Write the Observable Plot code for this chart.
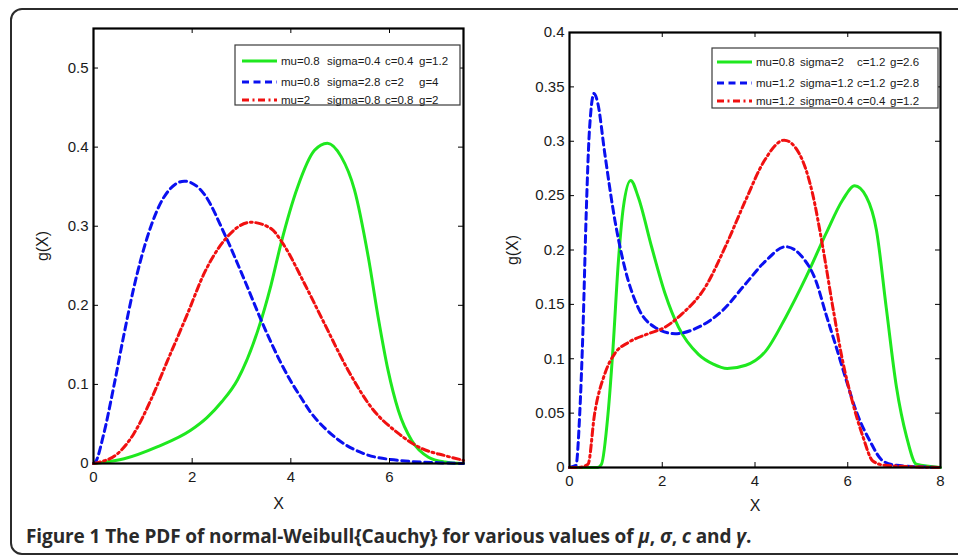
<!DOCTYPE html>
<html>
<head>
<meta charset="utf-8">
<script src="https://cdn.jsdelivr.net/npm/d3@7"></script>
<script src="https://cdn.jsdelivr.net/npm/@observablehq/plot@0.6"></script>
<style>
  html, body { margin: 0; padding: 0; background: #fff; }
  #page { position: relative; width: 958px; height: 557px; overflow: hidden; background: #fff; }
  #border { position: absolute; left: 10px; top: 8px; width: 980px; height: 543px; border: 2px solid #2b2b2b; border-radius: 12px; }
  .panel { position: absolute; top: 0; }
  .legend { position: absolute; }
  .legend text { font-family: "Liberation Sans", Arial, sans-serif; font-size: 11.5px; fill: #1a1a1a; }
  #caption { position: absolute; left: 26px; top: 523px; font-family: "Open Sans", sans-serif; font-weight: 700; font-size: 19px; color: #2a2a2a; white-space: nowrap; letter-spacing: -0.1px; }
  #caption i { font-weight: 700; }
</style>
</head>
<body>
<div id="page">
  <div id="border"></div>
  <div id="left" class="panel" style="left:0px"></div>
  <div id="right" class="panel" style="left:479px"></div>
  <div id="legL" class="legend"></div>
  <div id="legR" class="legend"></div>
  <div id="caption">Figure 1 The PDF of normal-Weibull{Cauchy} for various values of <i>μ</i>, <i>σ</i>, <i>c</i> and <i>γ</i>.</div>
</div>
<script>
// ---------- Left panel data ----------
const leftXTicks = [0, 2, 4, 6];
const leftYTicks = [0, 0.1, 0.2, 0.3, 0.4, 0.5];

const leftGreenX = [0, 0.14, 0.62, 1.29, 1.97, 2.3, 2.6, 2.92, 3.33, 3.6, 3.8, 4.14, 4.48, 4.74, 5.02, 5.29, 5.57, 5.77, 5.97, 6.18, 6.45, 6.79, 7.12, 7.5];
const leftGreenY = [0, 0.001, 0.006, 0.021, 0.042, 0.058, 0.078, 0.106, 0.168, 0.226, 0.278, 0.35, 0.396, 0.405, 0.388, 0.346, 0.261, 0.185, 0.118, 0.067, 0.029, 0.008, 0.002, 0];

const leftBlueX = [0, 0.04, 0.21, 0.41, 0.62, 0.82, 1.09, 1.43, 1.84, 2.24, 2.65, 3.06, 3.4, 3.6, 3.8, 4.0, 4.2, 4.41, 4.7, 4.96, 5.5, 6.18, 6.99, 7.5];
const leftBlueY = [0, 0.002, 0.038, 0.097, 0.164, 0.223, 0.286, 0.337, 0.357, 0.341, 0.291, 0.232, 0.181, 0.153, 0.127, 0.104, 0.084, 0.064, 0.044, 0.030, 0.012, 0.004, 0.001, 0];

const leftRedX = [0, 0.14, 0.48, 0.82, 1.16, 1.5, 1.91, 2.24, 2.65, 3.19, 3.6, 3.84, 4.28, 4.68, 5.16, 5.63, 6.18, 6.65, 7.12, 7.5];
const leftRedY = [0, 0.002, 0.012, 0.038, 0.08, 0.13, 0.19, 0.24, 0.282, 0.305, 0.297, 0.278, 0.227, 0.177, 0.118, 0.071, 0.038, 0.019, 0.010, 0.004];

const leftLegend = [
  ["mu=0.8", "sigma=0.4", "c=0.4", "g=1.2"],
  ["mu=0.8", "sigma=2.8", "c=2", "g=4"],
  ["mu=2", "sigma=0.8", "c=0.8", "g=2"]
];

// ---------- Right panel data ----------
const rightXTicks = [0, 2, 4, 6, 8];
const rightYTicks = [0, 0.05, 0.1, 0.15, 0.2, 0.25, 0.3, 0.35, 0.4];

const rightGreenX = [0, 0.6, 0.69, 0.83, 0.94, 1.05, 1.16, 1.32, 1.48, 1.77, 2.06, 2.35, 2.78, 3.1, 3.4, 3.8, 4.23, 4.66, 5.1, 5.53, 5.89, 6.15, 6.4, 6.62, 6.83, 7.05, 7.27, 7.48, 8];
const rightGreenY = [0, 0, 0.003, 0.049, 0.111, 0.187, 0.239, 0.264, 0.249, 0.203, 0.16, 0.129, 0.104, 0.095, 0.091, 0.094, 0.107, 0.138, 0.175, 0.215, 0.246, 0.259, 0.249, 0.218, 0.147, 0.074, 0.028, 0.003, 0];

const rightBlueX = [0, 0.14, 0.22, 0.29, 0.36, 0.43, 0.53, 0.61, 0.76, 0.98, 1.19, 1.48, 1.84, 2.28, 2.78, 3.29, 3.8, 4.23, 4.66, 5.03, 5.31, 5.53, 5.75, 5.97, 6.18, 6.47, 6.76, 7.05, 8];
const rightBlueY = [0, 0.002, 0.049, 0.126, 0.233, 0.31, 0.344, 0.335, 0.289, 0.227, 0.184, 0.147, 0.129, 0.123, 0.129, 0.144, 0.169, 0.19, 0.203, 0.193, 0.172, 0.141, 0.111, 0.08, 0.052, 0.025, 0.006, 0.002, 0];

const rightRedX = [0, 0.18, 0.4, 0.54, 0.76, 0.98, 1.27, 1.7, 2.06, 2.42, 2.93, 3.36, 3.8, 4.2, 4.63, 4.95, 5.24, 5.46, 5.68, 5.89, 6.11, 6.33, 6.54, 6.8, 8];
const rightRedY = [0, 0, 0.003, 0.049, 0.086, 0.105, 0.115, 0.123, 0.129, 0.141, 0.166, 0.203, 0.246, 0.282, 0.301, 0.289, 0.252, 0.203, 0.147, 0.098, 0.059, 0.028, 0.006, 0.002, 0];

const rightLegend = [
  ["mu=0.8", "sigma=2", "c=1.2", "g=2.6"],
  ["mu=1.2", "sigma=1.2", "c=1.2", "g=2.8"],
  ["mu=1.2", "sigma=0.4", "c=0.4", "g=1.2"]
];

// ---------- Styles ----------
const seriesColors = ["#1fe81f", "#0a10f0", "#f01010"];
const seriesDash = [null, "7,4.5", "7,3.5,2,3.5"];
const axisFont = '"Liberation Sans", Arial, sans-serif';

function zip(xs, ys) { return xs.map((x, i) => ({x, y: ys[i]})); }

function panel(cfg) {
  const W = cfg.width, H = cfg.height;
  const pw = W - cfg.ml - cfg.mr, ph = H - cfg.mt - cfg.mb;
  const series = cfg.series.map(s => zip(s[0], s[1]));
  const tick = 5;
  return Plot.plot({
    width: W, height: H,
    marginLeft: cfg.ml, marginRight: cfg.mr, marginTop: cfg.mt, marginBottom: cfg.mb,
    style: {fontFamily: axisFont, fontSize: "15px", color: "#1a1a1a", background: "transparent", overflow: "visible"},
    x: {domain: cfg.xDomain},
    y: {domain: cfg.yDomain},
    marks: [
      ...series.map((d, i) => Plot.line(d, {
        x: "x", y: "y", curve: "monotone-x",
        stroke: seriesColors[i], strokeWidth: 3,
        strokeDasharray: seriesDash[i] || undefined
      })),
      // inward ticks on all four sides
      Plot.tickX(cfg.xTicks, {x: d => d, insetTop: ph - tick, stroke: "#000", strokeWidth: 1}),
      Plot.tickX(cfg.xTicks, {x: d => d, insetBottom: ph - tick, stroke: "#000", strokeWidth: 1}),
      Plot.tickY(cfg.yTicks, {y: d => d, insetRight: pw - tick, stroke: "#000", strokeWidth: 1}),
      Plot.tickY(cfg.yTicks, {y: d => d, insetLeft: pw - tick, stroke: "#000", strokeWidth: 1}),
      Plot.axisX({ticks: cfg.xTicks, tickSize: 0, tickPadding: 8, tickFormat: d => String(d), label: null, fontSize: 15}),
      Plot.axisY({ticks: cfg.yTicks, tickSize: 0, tickPadding: 5, tickFormat: d => String(d), label: null, fontSize: 15}),
      Plot.frame({stroke: "#000", strokeWidth: 2.2}),
      Plot.text(["g(X)"], {frameAnchor: "left", dx: -cfg.ylabOff, rotate: -90, textAnchor: "middle", lineAnchor: "middle", fontSize: 16, fill: "#1a1a1a"}),
      Plot.text(["X"], {frameAnchor: "bottom", dy: cfg.xlabOff, lineAnchor: "middle", fontSize: 16, fill: "#1a1a1a"})
    ]
  });
}

document.getElementById("left").append(panel({
  width: 479, height: 520, ml: 93, mr: 16, mt: 28, mb: 57, ylabOff: 51, xlabOff: 40,
  xDomain: [0, 7.5], yDomain: [0, 0.55],
  xTicks: leftXTicks, yTicks: leftYTicks,
  series: [[leftGreenX, leftGreenY], [leftBlueX, leftBlueY], [leftRedX, leftRedY]]
}));

document.getElementById("right").append(panel({
  width: 479, height: 520, ml: 90, mr: 18, mt: 32, mb: 53, ylabOff: 57, xlabOff: 38,
  xDomain: [0, 8], yDomain: [0, 0.4],
  xTicks: rightXTicks, yTicks: rightYTicks,
  series: [[rightGreenX, rightGreenY], [rightBlueX, rightBlueY], [rightRedX, rightRedY]]
}));

function legend(el, box, rows, cols) {
  const {left, top, width, height, lineX0, lineX1, rowY} = box;
  const NS = "http://www.w3.org/2000/svg";
  const svg = document.createElementNS(NS, "svg");
  svg.setAttribute("width", width + 2); svg.setAttribute("height", height + 2);
  el.style.left = (left - 1) + "px"; el.style.top = (top - 1) + "px";
  let s = `<rect x="1" y="1" width="${width}" height="${height}" fill="#fff" stroke="#3a3a3a" stroke-width="1.2"/>`;
  rows.forEach((r, i) => {
    const y = rowY[i] - top + 1;
    s += `<line x1="${lineX0 - left + 1}" x2="${lineX1 - left + 1}" y1="${y}" y2="${y}" stroke="${seriesColors[i]}" stroke-width="3"${seriesDash[i] ? ` stroke-dasharray="${seriesDash[i]}"` : ""}/>`;
    r.forEach((t, j) => {
      s += `<text x="${cols[j] - left + 1}" y="${y}" dy="0.36em">${t}</text>`;
    });
  });
  svg.innerHTML = s;
  el.append(svg);
}

legend(document.getElementById("legL"),
  {left: 235, top: 45, width: 225, height: 60, lineX0: 242, lineX1: 277, rowY: [61, 82, 100]},
  leftLegend, [281, 327, 385, 419]);
legend(document.getElementById("legR"),
  {left: 712, top: 48, width: 226, height: 60, lineX0: 717, lineX1: 752, rowY: [62, 83, 101]},
  rightLegend, [756, 800, 857, 890]);
</script>
</body>
</html>
